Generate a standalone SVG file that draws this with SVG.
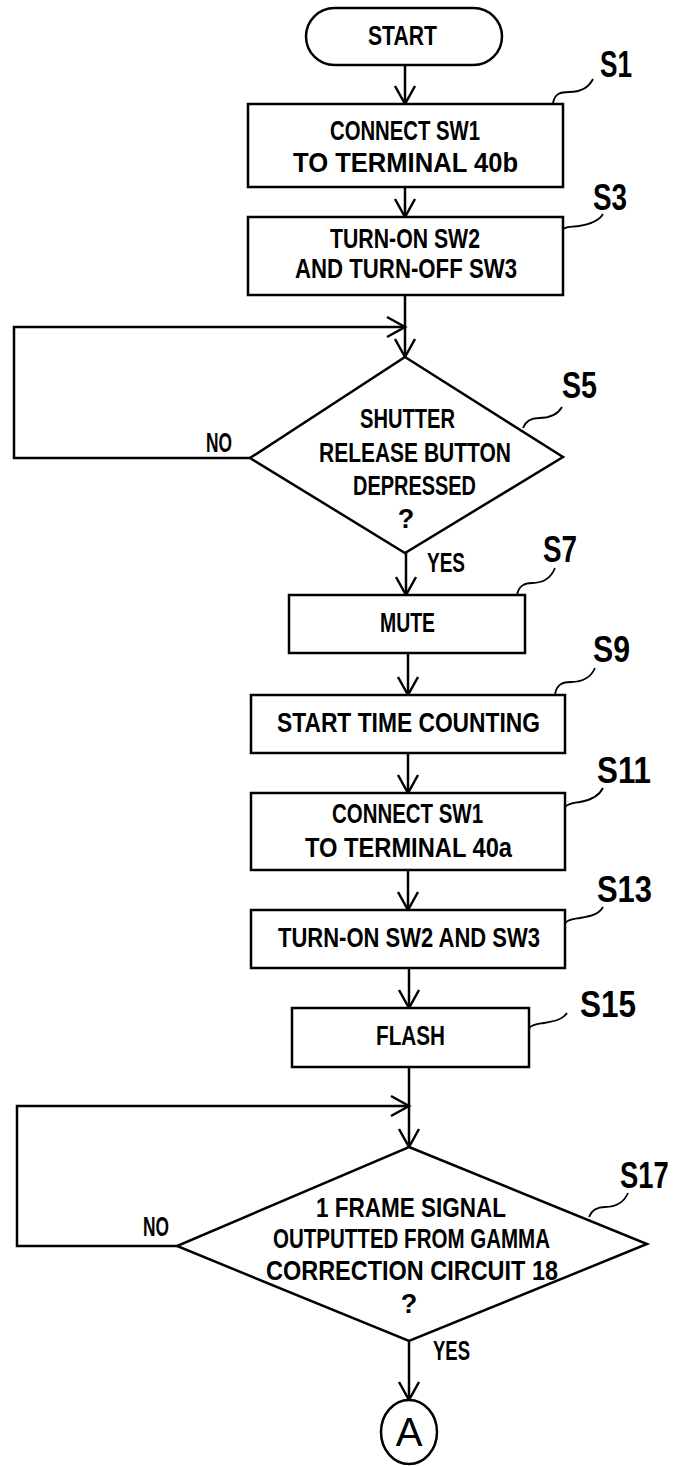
<svg xmlns="http://www.w3.org/2000/svg" width="676" height="1466" viewBox="0 0 676 1466">
<defs>
<style>
.n{fill:#fff;stroke:#000;stroke-width:2.5}
.c{fill:none;stroke:#000;stroke-width:2.5}
.l{fill:none;stroke:#000;stroke-width:1.8}
.t{font-family:"Liberation Sans Narrow","Liberation Sans",Arial,sans-serif;font-size:27px;font-weight:bold;fill:#000}
.s{font-family:"Liberation Sans Narrow","Liberation Sans",Arial,sans-serif;font-size:37px;font-weight:bold;fill:#000}
.a{font-family:"Liberation Sans",Arial,sans-serif;font-size:40px;fill:#000}
</style>
<marker id="ah" markerUnits="userSpaceOnUse" markerWidth="24" markerHeight="24" viewBox="-20 -12 24 24" refX="0" refY="0" orient="auto">
<path d="M-18,-10 L0,0 L-18,10" fill="none" stroke="#000" stroke-width="2.5"/>
</marker>
</defs>
<rect width="676" height="1466" fill="#fff"/>

<g id="connectors">
<path class="c" d="M405,65 V104" marker-end="url(#ah)"/>
<path class="c" d="M405,187 V217" marker-end="url(#ah)"/>
<path class="c" d="M405,295 V357" marker-end="url(#ah)"/>
<path class="c" d="M250,458 H14 V327 H405" marker-end="url(#ah)"/>
<path class="c" d="M406,553 V595" marker-end="url(#ah)"/>
<path class="c" d="M408,653 V695" marker-end="url(#ah)"/>
<path class="c" d="M408,753 V793" marker-end="url(#ah)"/>
<path class="c" d="M408,870 V910" marker-end="url(#ah)"/>
<path class="c" d="M409,968 V1008" marker-end="url(#ah)"/>
<path class="c" d="M409,1067 V1147" marker-end="url(#ah)"/>
<path class="c" d="M177,1246 H17 V1106 H409" marker-end="url(#ah)"/>
<path class="c" d="M409,1341 V1400" marker-end="url(#ah)"/>
<text class="t" x="206" y="452" textLength="26" lengthAdjust="spacingAndGlyphs">NO</text>
<text class="t" x="427" y="572" textLength="38" lengthAdjust="spacingAndGlyphs">YES</text>
<text class="t" x="143" y="1236" textLength="26" lengthAdjust="spacingAndGlyphs">NO</text>
<text class="t" x="433" y="1360" textLength="37" lengthAdjust="spacingAndGlyphs">YES</text>
</g>

<g id="start">
<rect class="n" x="306" y="8" width="196" height="57" rx="28.5"/>
<text class="t" x="368" y="45" textLength="69" lengthAdjust="spacingAndGlyphs">START</text>
</g>

<g id="s1">
<rect class="n" x="248" y="104" width="315" height="83"/>
<text class="t" x="330" y="140" textLength="150" lengthAdjust="spacingAndGlyphs">CONNECT SW1</text>
<text class="t" x="293" y="172" textLength="225" lengthAdjust="spacingAndGlyphs">TO TERMINAL 40b</text>
<path class="l" d="M553,103 c2,-10 8,-11 16,-11 c12,0 20,-5 24,-13"/>
<text class="s" x="600" y="77" textLength="32" lengthAdjust="spacingAndGlyphs">S1</text>
</g>

<g id="s3">
<rect class="n" x="248" y="217" width="315" height="78"/>
<text class="t" x="330" y="248" textLength="150" lengthAdjust="spacingAndGlyphs">TURN-ON SW2</text>
<text class="t" x="295" y="278" textLength="222" lengthAdjust="spacingAndGlyphs">AND TURN-OFF SW3</text>
<path class="l" d="M563,229 c4,-3 9,-2 16,-3 c12,-2 20,-5 24,-12"/>
<text class="s" x="593" y="210" textLength="34" lengthAdjust="spacingAndGlyphs">S3</text>
</g>

<g id="s5">
<polygon class="n" points="405,357 563,457 405,553 250,458"/>
<text class="t" x="360" y="428" textLength="95" lengthAdjust="spacingAndGlyphs">SHUTTER</text>
<text class="t" x="319" y="462" textLength="192" lengthAdjust="spacingAndGlyphs">RELEASE BUTTON</text>
<text class="t" x="353" y="495" textLength="123" lengthAdjust="spacingAndGlyphs">DEPRESSED</text>
<text class="t" x="406" y="528" text-anchor="middle">?</text>
<path class="l" d="M523,428 c3,-8 9,-10 16,-10 c12,0 19,-4 23,-11"/>
<text class="s" x="562" y="398" textLength="35" lengthAdjust="spacingAndGlyphs">S5</text>
</g>

<g id="s7">
<rect class="n" x="289" y="595" width="236" height="58"/>
<text class="t" x="380" y="632" textLength="55" lengthAdjust="spacingAndGlyphs">MUTE</text>
<path class="l" d="M517,595 c2,-10 8,-12 15,-12 c12,0 19,-5 23,-15"/>
<text class="s" x="543" y="562" textLength="34" lengthAdjust="spacingAndGlyphs">S7</text>
</g>

<g id="s9">
<rect class="n" x="251" y="695" width="314" height="58"/>
<text class="t" x="277" y="732" textLength="263" lengthAdjust="spacingAndGlyphs">START TIME COUNTING</text>
<path class="l" d="M555,694 c2,-10 8,-12 16,-12 c12,0 20,-5 24,-14"/>
<text class="s" x="593" y="662" textLength="37" lengthAdjust="spacingAndGlyphs">S9</text>
</g>

<g id="s11">
<rect class="n" x="251" y="793" width="314" height="77"/>
<text class="t" x="332" y="823" textLength="151" lengthAdjust="spacingAndGlyphs">CONNECT SW1</text>
<text class="t" x="305" y="857" textLength="207" lengthAdjust="spacingAndGlyphs">TO TERMINAL 40a</text>
<path class="l" d="M565,807 c4,-4 9,-4 15,-5 c12,-2 19,-6 23,-14"/>
<text class="s" x="597" y="783" textLength="54" lengthAdjust="spacingAndGlyphs">S11</text>
</g>

<g id="s13">
<rect class="n" x="251" y="910" width="314" height="58"/>
<text class="t" x="278" y="947" textLength="262" lengthAdjust="spacingAndGlyphs">TURN-ON SW2 AND SW3</text>
<path class="l" d="M565,923 c4,-4 9,-4 15,-5 c12,-2 19,-4 23,-11"/>
<text class="s" x="597" y="902" textLength="55" lengthAdjust="spacingAndGlyphs">S13</text>
</g>

<g id="s15">
<rect class="n" x="292" y="1008" width="237" height="59"/>
<text class="t" x="376" y="1045" textLength="69" lengthAdjust="spacingAndGlyphs">FLASH</text>
<path class="l" d="M529,1028 c4,-4 9,-4 15,-5 c12,-2 19,-4 23,-10"/>
<text class="s" x="580" y="1017" textLength="56" lengthAdjust="spacingAndGlyphs">S15</text>
</g>

<g id="s17">
<polygon class="n" points="409,1147 647,1244 409,1341 177,1246"/>
<text class="t" x="316" y="1217" textLength="190" lengthAdjust="spacingAndGlyphs">1 FRAME SIGNAL</text>
<text class="t" x="273" y="1248" textLength="277" lengthAdjust="spacingAndGlyphs">OUTPUTTED FROM GAMMA</text>
<text class="t" x="266" y="1280" textLength="292" lengthAdjust="spacingAndGlyphs">CORRECTION CIRCUIT 18</text>
<text class="t" x="409" y="1313" text-anchor="middle">?</text>
<path class="l" d="M589,1217 c3,-8 9,-10 16,-10 c12,0 19,-5 23,-14"/>
<text class="s" x="0" y="0" transform="translate(620,1188) scale(0.74,1)">S17</text>
</g>

<g id="connector-a">
<ellipse class="n" cx="409" cy="1432" rx="28" ry="32"/>
<text class="a" x="409" y="1446" text-anchor="middle">A</text>
</g>
</svg>
